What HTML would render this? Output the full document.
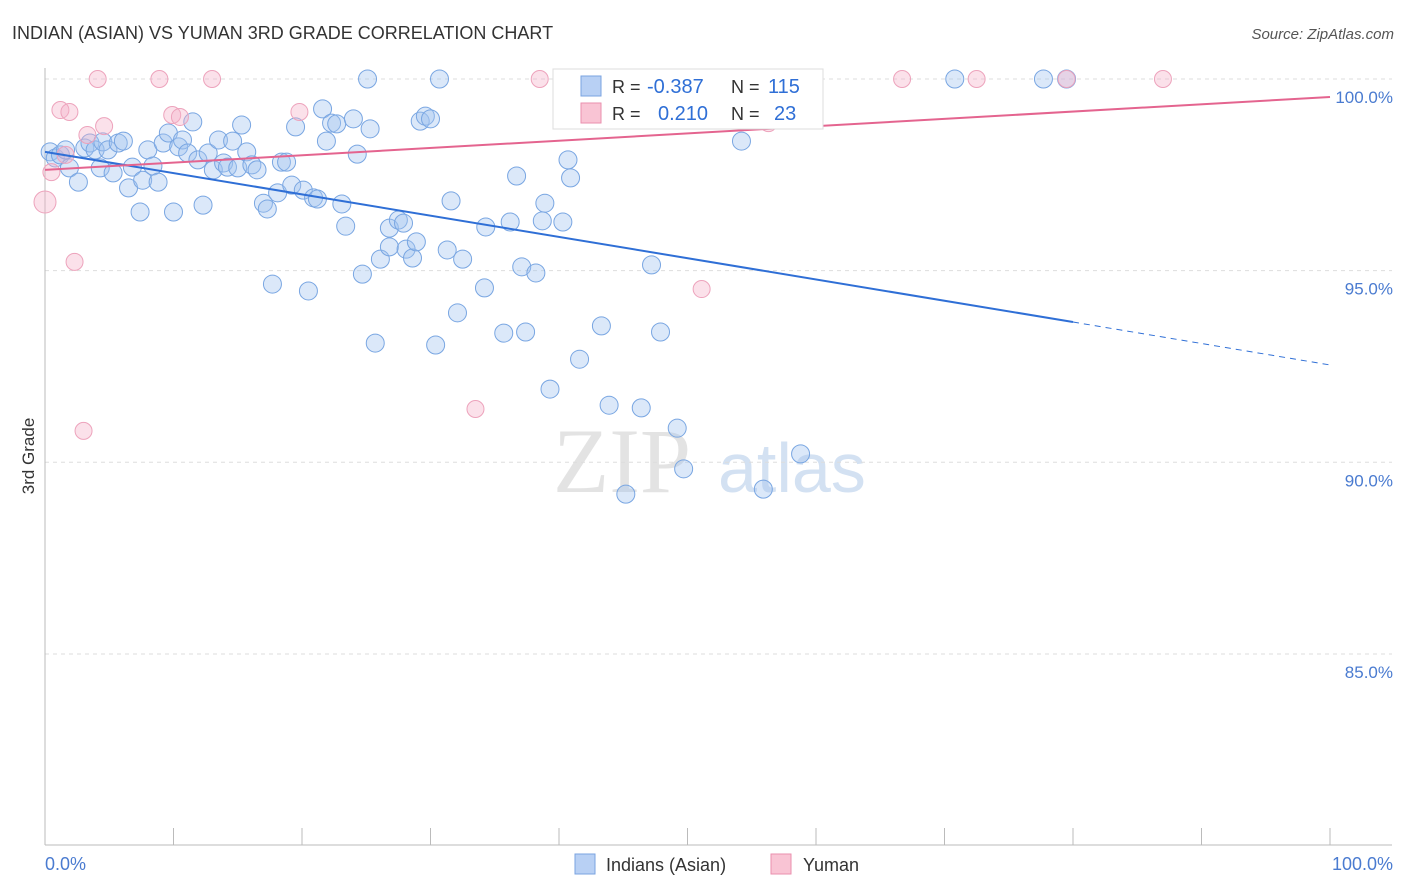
<!DOCTYPE html>
<html><head><meta charset="utf-8"><style>
body{margin:0;background:#fff;font-family:"Liberation Sans",sans-serif;}
</style></head><body>
<svg id="chart" width="1406" height="892" xmlns="http://www.w3.org/2000/svg" style="display:block">
<text x="12" y="39" font-size="18" fill="#333">INDIAN (ASIAN) VS YUMAN 3RD GRADE CORRELATION CHART</text>
<text x="1394" y="39" font-size="15" fill="#555" font-style="italic" text-anchor="end">Source: ZipAtlas.com</text>
<g>
<text x="553" y="492" font-size="92" fill="#ddd" font-family="Liberation Serif,serif" opacity="0.8">ZIP</text>
<text x="718" y="492" font-size="70" fill="#c9daf0" opacity="0.8">atlas</text>
</g>
<g id="grid"></g>
<g id="axes"></g>
<g id="points"></g>
<g id="trends"></g>
<g>
<rect x="553" y="69" width="270" height="60" fill="#fff" stroke="#ddd"/>
<rect x="581" y="76" width="20" height="20" fill="#b8d0f4" stroke="#7aa3e0"/>
<rect x="581" y="103" width="20" height="20" fill="#f9c4d4" stroke="#ea8fae"/>
<text x="612" y="93" font-size="18" fill="#333">R = </text>
<text x="647" y="93" font-size="20" fill="#2f6fd6">-0.387</text>
<text x="731" y="93" font-size="18" fill="#333">N =</text>
<text x="768" y="93" font-size="20" fill="#2f6fd6">115</text>
<text x="612" y="120" font-size="18" fill="#333">R = </text>
<text x="658" y="120" font-size="20" fill="#2f6fd6">0.210</text>
<text x="731" y="120" font-size="18" fill="#333">N =</text>
<text x="774" y="120" font-size="20" fill="#2f6fd6">23</text>
</g>
<text transform="translate(34,456) rotate(-90)" font-size="17" fill="#333" text-anchor="middle">3rd Grade</text>
<text x="45" y="870" font-size="18" fill="#4a7bd0">0.0%</text>
<text x="1393" y="870" font-size="18" fill="#4a7bd0" text-anchor="end">100.0%</text>
<g>
<rect x="575" y="854" width="20" height="20" fill="#b8d0f4" stroke="#7aa3e0"/>
<text x="606" y="871" font-size="18" fill="#333">Indians (Asian)</text>
<rect x="771" y="854" width="20" height="20" fill="#f9c4d4" stroke="#ea8fae"/>
<text x="803" y="871" font-size="18" fill="#333">Yuman</text>
</g>
</svg>
<script>
const yTicks=[100,95,90,85];
const yTickLabels=["100.0%","95.0%","90.0%","85.0%"];
const xTicks=[10,20,30,40,50,60,70,80,90,100];
const blueX=[0.4,0.8,1.2,1.6,1.9,2.6,3.1,3.5,3.9,4.3,4.5,4.9,5.3,5.7,6.1,6.5,6.8,7.4,7.6,8.0,8.4,8.8,9.2,9.6,10.0,10.4,10.7,11.1,11.5,11.9,12.3,12.7,13.1,13.5,13.9,14.2,14.6,15.0,15.3,15.7,16.1,16.5,17.0,17.3,17.7,18.1,18.4,18.8,19.2,19.5,20.1,20.5,20.9,21.2,21.6,21.9,22.3,22.7,23.1,23.4,24.0,24.3,24.7,25.3,25.7,26.1,26.8,26.8,27.5,27.9,28.1,28.6,28.9,29.2,29.6,30.0,30.4,30.7,31.3,31.6,32.1,32.5,34.2,34.3,35.7,36.2,36.7,37.1,37.4,38.2,38.7,38.9,39.3,40.3,40.7,40.9,41.6,43.3,43.9,45.2,46.0,46.4,47.1,47.2,47.9,49.2,49.7,54.2,55.9,58.8,70.8,77.7,79.5,25.1];
const blueY=[98.10,97.94,98.02,98.15,97.68,97.31,98.20,98.33,98.15,97.68,98.36,98.15,97.55,98.33,98.38,97.16,97.70,96.53,97.36,98.15,97.73,97.31,98.33,98.59,96.53,98.23,98.41,98.07,98.88,97.89,96.71,98.07,97.63,98.41,97.81,97.70,98.38,97.68,98.80,98.10,97.76,97.63,96.76,96.61,94.65,97.03,97.83,97.83,97.23,98.75,97.10,94.47,96.90,96.87,99.22,98.38,98.85,98.83,96.74,96.16,98.96,98.04,94.91,98.70,93.11,95.30,96.11,95.62,96.32,96.24,95.56,95.33,95.75,98.90,99.03,98.96,93.06,100,95.54,96.82,93.90,95.30,94.55,96.14,93.37,96.27,97.47,95.10,93.40,94.94,96.30,96.76,91.91,96.27,97.89,97.42,92.69,93.56,91.49,89.17,100,91.42,100,95.15,93.40,90.89,89.83,98.38,89.30,90.22,100,100,100,100];
const pinkX=[0,0.5,1.2,1.6,1.9,3.0,3.3,4.1,4.6,8.9,9.9,10.5,13.0,19.8,33.5,38.5,51.1,56.3,66.7,72.5,79.5,87.0,2.3];
const pinkY=[96.79,97.57,99.19,98.02,99.14,90.82,98.54,100,98.77,100,99.06,99.01,100,99.14,91.39,100,94.52,98.85,100,100,100,100,95.23];
const blueTrend=[98.10,93.66,92.54]; // at x=0, 80, 100
const pinkTrend=[97.63,99.53]; // at x=0, 100
const NS='http://www.w3.org/2000/svg';
const sx=v=>45+v*12.85;
const sy=v=>79+(100-v)*38.33;
function mk(tag,attrs,parent){const e=document.createElementNS(NS,tag);for(const k in attrs)e.setAttribute(k,attrs[k]);document.getElementById(parent).appendChild(e);return e;}
yTicks.forEach((t,i)=>{
 const g=mk('line',{x1:45,x2:1392,y1:sy(t),y2:sy(t),stroke:'#ddd','stroke-dasharray':'4,4'},'grid');
 
 
 const l=mk('text',{x:1393,y:sy(t)+24,'font-size':17,fill:'#4a7bd0','text-anchor':'end'},'grid');
 l.textContent=yTickLabels[i];
 
 
});
const ya=mk('line',{x1:45,x2:45,y1:68,y2:845,stroke:'#bbb'},'axes');


const xa=mk('line',{x1:45,x2:1392,y1:845,y2:845,stroke:'#bbb'},'axes');


xTicks.forEach(t=>{
 const k=mk('line',{x1:sx(t),x2:sx(t),y1:828,y2:845,stroke:'#bbb'},'axes');
 
 
});
blueX.forEach((x,i)=>{
 const c=mk('circle',{cx:sx(x),cy:sy(blueY[i]),r:9,fill:'rgba(160,195,240,0.38)',stroke:'#79a6e2','stroke-width':1},'points');
 
 
});
pinkX.forEach((x,i)=>{
 const c=mk('circle',{cx:sx(x),cy:sy(pinkY[i]),r:i==0?11:8.5,fill:'rgba(245,175,200,0.38)',stroke:'#eda3bc','stroke-width':1},'points');
 
 
});
const b1=mk('line',{x1:sx(0),y1:sy(blueTrend[0]),x2:sx(80),y2:sy(blueTrend[1]),stroke:'#2f6fd6','stroke-width':2},'trends');


const b2=mk('line',{x1:sx(80),y1:sy(blueTrend[1]),x2:sx(100),y2:sy(blueTrend[2]),stroke:'#2f6fd6','stroke-width':1,'stroke-dasharray':'6,5'},'trends');


const p1=mk('line',{x1:sx(0),y1:sy(pinkTrend[0]),x2:sx(100),y2:sy(pinkTrend[1]),stroke:'#e4648f','stroke-width':2},'trends');


</script>
</body></html>
